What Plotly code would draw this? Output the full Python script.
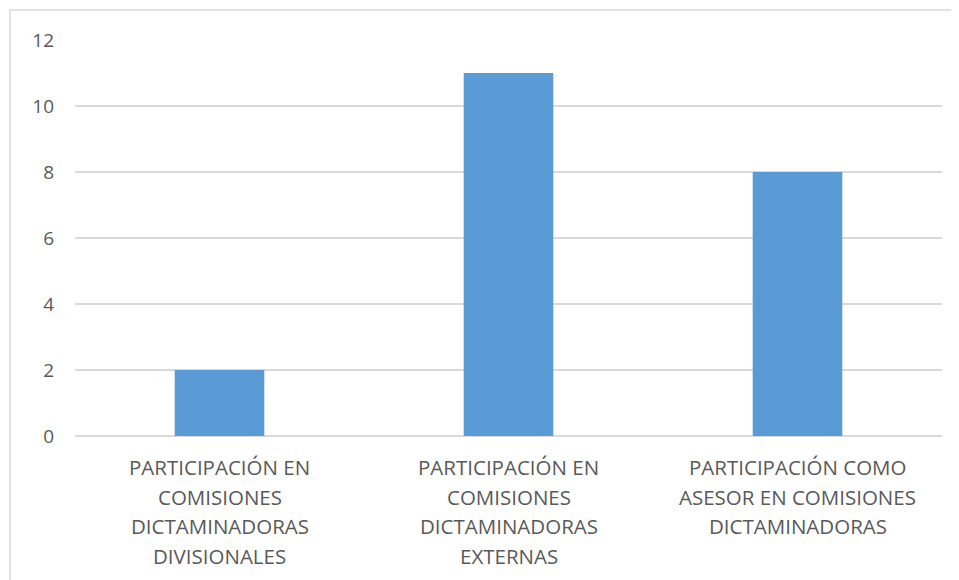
import plotly.graph_objects as go

# Data
categories = [
    "PARTICIPACIÓN EN COMISIONES DICTAMINADORAS DIVISIONALES",
    "PARTICIPACIÓN EN COMISIONES DICTAMINADORAS EXTERNAS",
    "PARTICIPACIÓN COMO ASESOR EN COMISIONES DICTAMINADORAS",
]
label_lines = [
    ["PARTICIPACIÓN EN", "COMISIONES", "DICTAMINADORAS", "DIVISIONALES"],
    ["PARTICIPACIÓN EN", "COMISIONES", "DICTAMINADORAS", "EXTERNAS"],
    ["PARTICIPACIÓN COMO", "ASESOR EN COMISIONES", "DICTAMINADORAS"],
]
values = [2, 11, 8]
y_ticks = [0, 2, 4, 6, 8, 10, 12]

text_color = "#595959"
grid_color = "#D9D9D9"
font_family = "Open Sans"

fig = go.Figure()

fig.add_trace(
    go.Bar(
        x=categories,
        y=values,
        marker=dict(color="#5B9BD5", line=dict(width=0)),
        showlegend=False,
    )
)

# Category labels, one annotation per line so the line spacing matches Excel
for cat, lines in zip(categories, label_lines):
    for i, line in enumerate(lines):
        fig.add_annotation(
            x=cat,
            y=0,
            xref="x",
            yref="paper",
            text=line,
            showarrow=False,
            xanchor="center",
            yanchor="middle",
            yshift=-31 - 29.7 * i,
            font=dict(family=font_family, size=20.5, color=text_color),
        )

# Light chart border (cropped at right and bottom in the reference)
fig.add_shape(
    type="rect",
    xref="paper",
    yref="paper",
    x0=-0.075,
    x1=1.06,
    y0=-0.45,
    y1=1.0758,
    line=dict(color=grid_color, width=1.5),
    fillcolor="rgba(0,0,0,0)",
    layer="below",
)

# page body has an 8px margin, so the figure is a bit smaller than the window
fig.update_layout(
    width=951,
    height=572,
    margin=dict(l=67, r=17, t=32, b=144),
    paper_bgcolor="white",
    plot_bgcolor="white",
    bargap=0.69,
    font=dict(family=font_family, size=19, color=text_color),
)

fig.update_xaxes(
    showticklabels=False,
    showgrid=False,
    showline=False,
    zeroline=False,
)
fig.update_yaxes(
    range=[0, 12],
    tickvals=y_ticks,
    showgrid=True,
    gridcolor=grid_color,
    gridwidth=1.5,
    zeroline=True,
    zerolinecolor=grid_color,
    zerolinewidth=1.5,
    showline=False,
    ticks="",
    ticklabelstandoff=20,
    tickfont=dict(family=font_family, size=19, color=text_color),
)

fig.write_html("out.html")
